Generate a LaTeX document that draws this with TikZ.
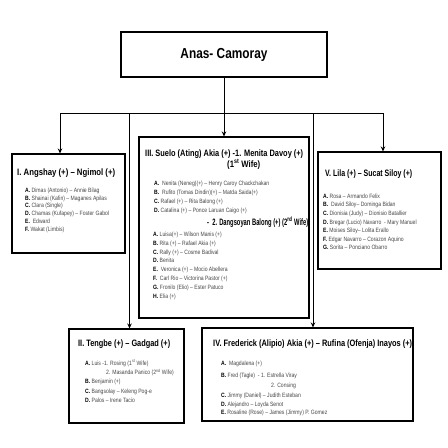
\documentclass[tikz,border=0pt]{standalone}
\usepackage{fontspec}
\usepackage{graphicx}
\setmainfont{Liberation Sans}
\usetikzlibrary{arrows.meta}
\newcommand\itl[1]{\textbf{\color{black}#1}}
\newcommand\nw[1]{\scalebox{0.82}[1]{#1}}
\newcommand\fw[2]{\resizebox{#1pt}{\height}{#2}}
\begin{document}
\begin{tikzpicture}[x=1pt,y=-1pt,
  box/.style={draw,line width=1.1pt,rectangle,inner sep=0pt},
  conn/.style={line width=0.9pt,-{Stealth[length=5pt,width=4.5pt]}},
  bus/.style={line width=0.9pt},
  ttl/.style={anchor=base west,inner sep=0pt,font=\bfseries\fontsize{9.3}{11}\selectfont},
  itm/.style={anchor=base west,inner sep=0pt,text=black!72,font=\fontsize{6.2}{7}\selectfont}]
\useasboundingbox[fill=white] (0,0) rectangle (448,448);
% boxes
\node[box,minimum width=206pt,minimum height=45pt] (top) at (224,54.5) {};
\node[font=\bfseries\fontsize{14.5}{16}\selectfont,inner sep=0pt] (toptxt) at (224,54.5) {\fw{87}{Anas- Camoray}};
\node[box,minimum width=113pt,minimum height=99pt] (boxI) at (68.5,203.5) {};
\node[box,minimum width=170pt,minimum height=181pt] (boxIII) at (224,227.5) {};
\node[box,minimum width=123pt,minimum height=117pt] (boxV) at (379.5,210.5) {};
\node[box,minimum width=115pt,minimum height=94pt] (boxII) at (126.5,376) {};
\node[box,minimum width=211pt,minimum height=93pt] (boxIV) at (307.5,374.5) {};
% connectors
\coordinate (bL) at (60,113);
\coordinate (b2) at (129.5,113);
\coordinate (b4) at (313,113);
\coordinate (bR) at (383,113);
\draw[conn] (top.south) -- (boxIII.north);
\draw[bus] (bL) -- (bR);
\draw[conn] (bL) -- (bL |- boxI.north);
\draw[conn] (b2) -- (b2 |- boxII.north);
\draw[conn] (b4) -- (b4 |- boxIV.north);
\draw[conn] (bR) -- (bR |- boxV.north);
% Box I
\node[ttl] (tI) at (17,175.5) {\fw{98}{I. Angshay (+) – Ngimol (+)}};
\foreach \t [count=\i from 0] in {
  {\itl{A.} Dimas (Antonio) – Annie Bilag},
  {\itl{B.} Shainai (Kafin) – Maganes Apilas},
  {\itl{C.} Clara (Single)},
  {\itl{D.} Chamas (Kufapey) – Foster Gabol},
  {\itl{E.}\ \ Edward},
  {\itl{F.} Wakat (Limbis)}}
  \node[itm] (I\i) at (25,192.2+7.8*\i) {\nw{\t}};
% Box III
\node[ttl] (tIIIa) at (145,156.2) {\fw{158}{III. Suelo (Ating) Akia (+) -1. Menita Davoy (+)}};
\node[ttl] (tIIIb) at (227,167.5) {\fw{33}{(1\textsuperscript{st} Wife)}};
\foreach \t [count=\i from 0] in {
  {\itl{A.}\ \ Nenita (Neneg)(+) – Henry Caroy Chackchakan},
  {\itl{B.}\ \ Rufito (Tomas Dindin)(+) – Matda Saida(+)},
  {\itl{C.} Rafael (+) – Rita Balong (+)},
  {\itl{D.} Catalina (+) – Ponce Laruan Caigo (+)}}
  \node[itm] (IIIa\i) at (154,185.5+9.1*\i) {\nw{\t}};
\node[ttl] (tIIIc) at (207,225.2) {\fw{101}{-\ \ 2. Dangsoyan Balong (+) (2\textsuperscript{nd} Wife)}};
\foreach \t [count=\i from 0] in {
  {\itl{A.} Luisa(+) – Wilson Manis (+)},
  {\itl{B.} Rita (+) – Rafael Akia (+)},
  {\itl{C.} Rally (+) – Cosme Badival},
  {\itl{D.} Benita},
  {\itl{E.}\ \ Veronica (+) – Mocio Abellera},
  {\itl{F.}\ \ Carl Rio – Victorina Pastor (+)},
  {\itl{G.} Fronilo (Elio) – Ester Patuco},
  {\itl{H.} Elia (+)}}
  \node[itm] (IIIb\i) at (153,236.5+8.8*\i) {\nw{\t}};
% Box V
\node[ttl] (tV) at (325,176.8) {\fw{87}{V. Lila (+) – Sucat Siloy (+)}};
\foreach \t [count=\i from 0] in {
  {\itl{A.} Rosa – Armando Felix},
  {\itl{B.}\ \ David Siloy– Dominga Bidan},
  {\itl{C.} Dionisia (Judy) – Dionisio Batallier},
  {\itl{D.} Bregar (Lucio) Navarro\ \ - Mary Manuel},
  {\itl{E.} Moises Siloy– Lolita Erallo},
  {\itl{F.} Edgar Navarro – Corazon Aquino},
  {\itl{G.} Sorita – Ponciano Obarro}}
  \node[itm] (V\i) at (323,198.2+8.6*\i) {\nw{\t}};
% Box II
\node[ttl] (tII) at (78,346.8) {\fw{92}{II. Tengbe (+) – Gadgad (+)}};
\node[itm] (IIa) at (85,365.5) {\nw{\itl{A.} Luis -1. Rosing (1\textsuperscript{st} Wife)}};
\node[itm] (IIa2) at (106,374.9) {\nw{2. Masanda Panico (2\textsuperscript{nd} Wife)}};
\node[itm] (IIb) at (85,383.9) {\nw{\itl{B.} Benjamin (+)}};
\node[itm] (IIc) at (85,393.2) {\nw{\itl{C.}\ Bangsolay – Keleng Pog-e}};
\node[itm] (IId) at (85,402.2) {\nw{\itl{D.} Palos – Irene Tacio}};
% Box IV
\node[ttl] (tIV) at (213,346.2) {\fw{199}{IV. Frederick (Alipio) Akia (+) – Rufina (Ofenja) Inayos (+)}};
\node[itm] (IVa) at (221,365.5) {\nw{\itl{A.}\ \ Magdalena (+)}};
\node[itm] (IVb) at (221,377.2) {\nw{\itl{B.} Fred (Tagle)\ \ - 1. Estrella Viray}};
\node[itm] (IVb2) at (271,387.2) {\nw{2. Consing}};
\node[itm] (IVc) at (221,397.2) {\nw{\itl{C.} Jimmy (Daniel) – Judith Esteban}};
\node[itm] (IVd) at (221,406.2) {\nw{\itl{D.} Alejandro – Loyda Senot}};
\node[itm] (IVe) at (221,414.9) {\nw{\itl{E.} Rosaline (Rose) – James (Jimmy) P. Gomez}};
\end{tikzpicture}
\end{document}
